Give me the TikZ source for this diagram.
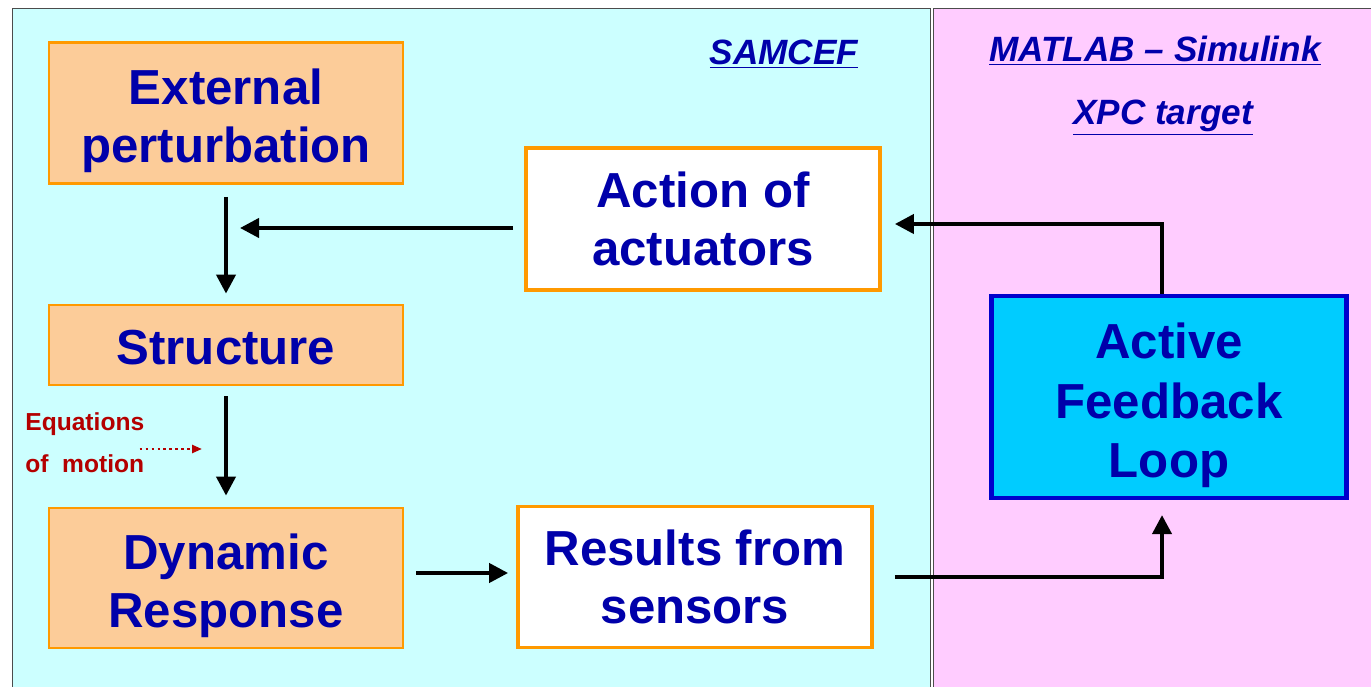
\documentclass[tikz,border=0pt]{standalone}
\usepackage{fontspec}
\setmainfont{Liberation Sans}
\usetikzlibrary{arrows.meta}
\definecolor{samcefbg}{RGB}{204,255,255}
\definecolor{matlabbg}{RGB}{255,204,255}
\definecolor{peach}{RGB}{252,204,153}
\definecolor{boxorange}{RGB}{255,153,0}
\definecolor{txtblue}{RGB}{0,0,170}
\definecolor{loopcyan}{RGB}{0,204,255}
\definecolor{loopblue}{RGB}{0,0,204}
\definecolor{eqred}{RGB}{180,0,0}
\tikzset{
  block/.style={draw=boxorange,line width=1.6pt,fill=peach,text=txtblue,align=center,
    minimum width=7.08cm,inner sep=0pt,font=\fontsize{28}{33}\selectfont\bfseries},
  lowtext/.style={text height=#1},
  whiteblock/.style={block,fill=white,line width=2.2pt},
  flow/.style={-{Triangle[length=0.38cm,width=0.38cm]},line width=2.3pt},
  eqarrow/.style={-{Triangle[length=0.2cm,width=0.16cm]},eqred,line width=1.4pt,dotted},
  toolname/.style={text=txtblue,font=\fontsize{20}{24}\selectfont\bfseries\itshape}
}
\begin{document}
\begin{tikzpicture}[x=0.02cm,y=0.02cm]
\clip (0,0) rectangle (1371,686);
\fill[white] (0,0) rectangle (1371,686);
\draw[fill=samcefbg,draw=black!70] (12,-10) rectangle (930,678);
\draw[fill=matlabbg,draw=black!70] (933,-10) rectangle (1390,678);

\node[toolname] (samcef) at (784,632) {\underline{SAMCEF}};
\node[toolname] (matlab) at (1155,635) {\underline{MATLAB -- Simulink}};
\node[toolname] (xpc) at (1163,568) {\underline{XPC target}};

\node[block,lowtext=62pt,minimum height=2.82cm] (ext) at (226,573) {External\\perturbation};
\node[block,lowtext=23pt,minimum height=1.6cm] (struct) at (226,341) {Structure};
\node[block,lowtext=62pt,minimum height=2.8cm] (dyn) at (226,108) {Dynamic\\Response};
\node[whiteblock,minimum height=2.84cm] (act) at (703,467) {Action of\\actuators};
\node[whiteblock,minimum height=2.82cm] (res) at (695,109) {Results from\\sensors};
\node[block,lowtext=98pt,fill=loopcyan,draw=loopblue,line width=2.4pt,minimum width=7.1cm,
  minimum height=4.04cm,font=\fontsize{28}{34}\selectfont\bfseries] (afl) at (1169,289)
  {Active\\Feedback\\Loop};

\node[anchor=west,align=left,text=eqred,inner sep=0pt,
  font=\fontsize{14}{24}\selectfont\bfseries] (eqn) at (25,243) {Equations\\of\ \ motion};
\coordinate (eqtip) at (202,237);
\draw[eqarrow] ([xshift=-0.1cm]eqn.east |- eqtip) -- (eqtip);

\coordinate (feedin) at (240,458);
\draw[flow,shorten <=0.24cm,shorten >=0.2cm] (ext) -- (struct);
\draw[flow,shorten <=0.2cm,shorten >=0.22cm] (struct) -- (dyn);
\draw[flow,shorten <=0.22cm] (act.west |- feedin) -- (feedin);
\draw[flow,shorten <=0.24cm,shorten >=0.16cm] ([yshift=0.1cm]dyn.east) -- ([yshift=0.1cm]res.west |- dyn.east);
\draw[flow,shorten <=0.42cm,shorten >=0.3cm] (res.east) -| ([xshift=-0.14cm]afl.south);
\draw[flow,shorten >=0.26cm] ([xshift=-0.14cm]afl.north) |- ([yshift=-0.1cm]act.east);
\end{tikzpicture}
\end{document}
